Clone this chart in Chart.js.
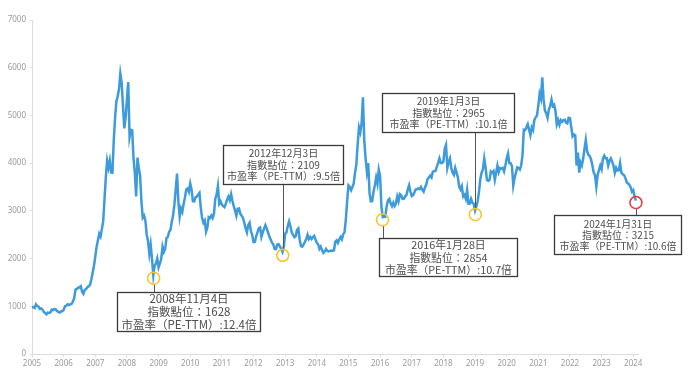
<!DOCTYPE html>
<html>
<head>
<meta charset="utf-8">
<script src="https://cdn.jsdelivr.net/npm/chart.js@4.4.1/dist/chart.umd.min.js"></script>
<style>
html,body{margin:0;padding:0;background:#fff;}
#wrap{width:692px;height:376px;}
</style>
</head>
<body>
<div id="wrap"><canvas id="c" width="692" height="376"></canvas></div>
<script>
// CSI 300 index, semi-monthly readings (mid-month, month-end) for each year
const startValue = 1000; // 2005-01-01
const y2005 = [975, 962, 1040, 1006, 990, 943, 955, 929, 880, 856, 830, 868, 860, 875, 930, 920, 940, 935, 900, 883, 870, 892, 900, 923];
const y2006 = [1000, 1011, 1040, 1027, 1040, 1048, 1100, 1169, 1350, 1365, 1390, 1398, 1420, 1306, 1260, 1343, 1360, 1401, 1420, 1449, 1560, 1705, 1850, 2041];
const y2007 = [2250, 2386, 2520, 2460, 2620, 2781, 3250, 3714, 4050, 3903, 4050, 3805, 3800, 4471, 4950, 5296, 5400, 5552, 5877, 5688, 5200, 4729, 4950, 5338];
const y2008 = [5700, 4548, 4700, 4688, 4100, 3790, 3300, 4115, 3900, 3734, 3200, 2857, 2900, 2793, 2500, 2364, 2100, 2294, 2000, 1653, 1850, 1898, 2000, 1817];
const y2009 = [1900, 1990, 2250, 2140, 2200, 2430, 2450, 2560, 2600, 2770, 2900, 3130, 3450, 3780, 3200, 2880, 3050, 2980, 3150, 3280, 3450, 3470, 3400, 3575];
const y2010 = [3450, 3204, 3200, 3282, 3300, 3346, 3380, 3067, 2850, 2750, 2800, 2564, 2650, 2868, 2850, 2903, 2850, 2935, 3250, 3340, 3520, 3150, 3200, 3128];
const y2011 = [3100, 3076, 3150, 3239, 3300, 3222, 3350, 3211, 3100, 3010, 2900, 3044, 3050, 2937, 2900, 2853, 2750, 2634, 2550, 2701, 2750, 2582, 2500, 2346];
const y2012 = [2350, 2464, 2550, 2635, 2650, 2455, 2550, 2627, 2700, 2633, 2550, 2461, 2400, 2333, 2300, 2204, 2200, 2293, 2300, 2254, 2200, 2139, 2250, 2523];
const y2013 = [2550, 2688, 2780, 2673, 2550, 2495, 2450, 2469, 2600, 2631, 2400, 2263, 2250, 2296, 2350, 2409, 2500, 2409, 2450, 2409, 2450, 2475, 2400, 2330];
const y2014 = [2300, 2203, 2250, 2178, 2120, 2146, 2200, 2158, 2150, 2160, 2170, 2165, 2170, 2350, 2380, 2327, 2400, 2450, 2400, 2508, 2550, 2809, 3200, 3533];
const y2015 = [3500, 3434, 3500, 3572, 3800, 3975, 4400, 4749, 4650, 4840, 5380, 4473, 4100, 3816, 4000, 3366, 3200, 3203, 3400, 3534, 3700, 3566, 3860, 3731];
const y2016 = [3100, 2870, 2880, 2877, 3100, 3218, 3250, 3156, 3100, 3170, 3100, 3154, 3300, 3203, 3350, 3327, 3250, 3253, 3300, 3336, 3450, 3538, 3400, 3310];
const y2017 = [3330, 3387, 3450, 3452, 3470, 3456, 3500, 3439, 3400, 3492, 3550, 3666, 3700, 3737, 3700, 3822, 3830, 3837, 3920, 4006, 4100, 4006, 4000, 4030];
const y2018 = [4300, 4380, 3900, 4023, 4100, 3898, 3800, 3756, 3900, 3802, 3700, 3510, 3450, 3517, 3300, 3334, 3250, 3438, 3150, 3153, 3250, 3172, 3150, 3010];
const y2019 = [3100, 3201, 3400, 3669, 3800, 3872, 4100, 3913, 3650, 3629, 3650, 3825, 3800, 3835, 3650, 3799, 3950, 3814, 3900, 3886, 3900, 3828, 3950, 4096];
const y2020 = [4200, 4003, 4000, 3940, 3530, 3686, 3800, 3912, 3900, 3867, 3950, 4163, 4700, 4695, 4750, 4816, 4700, 4587, 4750, 4695, 4900, 4960, 5000, 5211];
const y2021 = [5450, 5352, 5800, 5336, 5100, 5048, 4950, 5123, 5200, 5331, 5200, 5224, 5100, 4811, 4900, 4805, 4900, 4866, 4900, 4908, 4850, 4833, 4950, 4940];
const y2022 = [4750, 4563, 4600, 4581, 3950, 4223, 3800, 4016, 3950, 4091, 4300, 4485, 4250, 4170, 4150, 4079, 3950, 3804, 3750, 3508, 3750, 3854, 3950, 3871];
const y2023 = [4100, 4157, 4100, 4102, 3950, 4051, 4100, 4030, 3950, 3798, 3900, 3843, 3850, 4000, 3800, 3765, 3750, 3690, 3600, 3573, 3550, 3496, 3400, 3431];
const y2024 = [3300, 3215];

const yearTicks = [2005,2006,2007,2008,2009,2010,2011,2012,2013,2014,2015,2016,2017,2018,2019,2020,2021,2022,2023,2024];
const yTicks = [0,1000,2000,3000,4000,5000,6000,7000];

// Annotated points
const annDates = ["2008-11-04", "2012-12-03", "2016-01-28", "2019-01-03", "2024-01-31"];
const annValues = [1628, 2109, 2854, 2965, 3215];
const annPE = [12.4, 9.5, 10.7, 10.1, 10.6];
const annColors = ["#F7C325", "#F7C325", "#F7C325", "#F7C325", "#E8343A"];

// Box layout (pixels); tw = width of longest text line
const annBoxes = [
  {x:117, y:292, w:143, h:39, tw:135},
  {x:223, y:145, w:120, h:39, tw:113},
  {x:379, y:238, w:138, h:38, tw:127},
  {x:382, y:93,  w:132, h:39, tw:118},
  {x:554, y:215, w:127, h:39, tw:117}
];

const yearSeries = [y2005,y2006,y2007,y2008,y2009,y2010,y2011,y2012,y2013,y2014,y2015,y2016,y2017,y2018,y2019,y2020,y2021,y2022,y2023,y2024];
const points = [{x:2005, y:startValue}];
yearSeries.forEach((arr, yi) => {
  const yr = 2005 + yi;
  arr.forEach((v, i) => {
    const m = Math.floor(i/2);
    const frac = (i % 2 === 0) ? (m + 0.5)/12 : (m + 1)/12;
    points.push({x: yr + frac, y: v});
  });
});

function decYear(s){
  const [y,m,d] = s.split('-').map(Number);
  const days = [31,(y%4===0?29:28),31,30,31,30,31,31,30,31,30,31];
  let doy = d; for(let i=0;i<m-1;i++) doy += days[i];
  return y + doy/(y%4===0?366:365);
}

const FONT = '"Noto Sans CJK TC", "Noto Sans CJK SC", sans-serif';

const annPlugin = {
  id: 'ann',
  afterDatasetsDraw(chart){
    const ctx = chart.ctx;
    const xs = chart.scales.x, ys = chart.scales.y;
    const r = 6;
    annDates.forEach((ds, i) => {
      const px = xs.getPixelForValue(decYear(ds));
      const py = ys.getPixelForValue(annValues[i]) + 2;
      const b = annBoxes[i];
      ctx.save();
      // connector
      ctx.strokeStyle = '#555';
      ctx.lineWidth = 1;
      ctx.beginPath();
      const lx = Math.round(px) + 0.5;
      if (b.y > py) { ctx.moveTo(lx, py + r); ctx.lineTo(lx, b.y); }
      else { ctx.moveTo(lx, b.y + b.h); ctx.lineTo(lx, py - r); }
      ctx.stroke();
      // circle
      ctx.strokeStyle = annColors[i];
      ctx.lineWidth = 1.5;
      ctx.beginPath();
      ctx.arc(px, py, r, 0, Math.PI*2);
      ctx.stroke();
      // box
      ctx.fillStyle = '#fff';
      ctx.fillRect(b.x, b.y, b.w, b.h);
      ctx.strokeStyle = '#3a3a3a';
      ctx.lineWidth = 1.3;
      ctx.strokeRect(b.x+0.5, b.y+0.5, b.w, b.h);
      // text
      const [yy, mm, dd] = ds.split('-').map(Number);
      const lines = [yy + '年' + mm + '月' + dd + '日', '指數點位：' + annValues[i], '市盈率（PE-TTM）:' + annPE[i] + '倍'];
      ctx.font = '11px ' + FONT;
      const w11 = ctx.measureText(lines[2]).width;
      const fs = 11 * b.tw / w11;
      const lh = fs * 1.13;
      ctx.font = fs.toFixed(2) + 'px ' + FONT;
      ctx.fillStyle = '#4d4d4d';
      ctx.textAlign = 'center';
      ctx.textBaseline = 'middle';
      const cx = b.x + b.w/2 + 0.5;
      const cy = b.y + b.h/2 + 0.5;
      lines.forEach((t, k) => {
        ctx.fillText(t, cx, cy + (k - 1) * lh);
      });
      ctx.restore();
    });
  }
};

new Chart(document.getElementById('c'), {
  type: 'line',
  data: {
    datasets: [{
      data: points,
      borderColor: '#3E9BDB',
      borderWidth: 2.5,
      pointRadius: 0,
      tension: 0,
      fill: false
    }]
  },
  options: {
    responsive: false,
    animation: false,
    devicePixelRatio: 1,
    layout: {padding: {top: 20, right: 54, left: 0, bottom: 0}},
    plugins: {legend: {display: false}, tooltip: {enabled: false}},
    scales: {
      x: {
        type: 'linear',
        min: 2005,
        max: 2024.15,
        afterBuildTicks: s => { s.ticks = yearTicks.map(v => ({value: v})); },
        afterFit: s => { s.height = 22; },
        ticks: {
          autoSkip: false, maxRotation: 0, padding: 2,
          color: '#9a9a9a',
          font: {size: 8, family: '"Noto Sans", sans-serif'},
          callback: v => String(v)
        },
        grid: {display: true, drawOnChartArea: false, drawTicks: true, tickLength: 3, color: '#dddddd'},
        border: {display: true, color: '#dddddd'}
      },
      y: {
        min: 0, max: 7000,
        afterBuildTicks: s => { s.ticks = yTicks.map(v => ({value: v})); },
        afterFit: s => { s.width = 32; },
        ticks: {
          padding: 4,
          color: '#9a9a9a',
          font: {size: 8, family: '"Noto Sans", sans-serif'},
          callback: v => String(v)
        },
        grid: {display: true, drawOnChartArea: false, drawTicks: true, tickLength: 2, color: '#dddddd'},
        border: {display: true, color: '#dddddd'}
      }
    }
  },
  plugins: [annPlugin]
});
</script>
</body>
</html>
